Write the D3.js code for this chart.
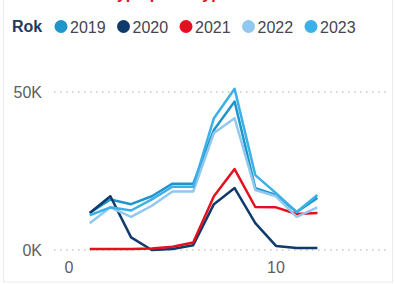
<!DOCTYPE html>
<html>
    <head>
        <script src="https://d3js.org/d3.v7.min.js"></script>
        <style>
            body { margin: 0; background: #fff; }
            text { font-family: "Liberation Sans", Arial, sans-serif; }
        </style>
    </head>
    <body>
        <svg width="395" height="284" id="chart"></svg>
        <script>
            // data (thousands of visitors per month)
            const months = [1,2,3,4,5,6,7,8,9,10,11,12];
            const years = ["2019","2020","2021","2022","2023"];
            const colors = ["#1E96CC","#0F3A6C","#E4101F","#91C8F0","#3CB0E8"];
            const v2019 = [11.7,16.0,14.5,17.0,21.0,21.0,38.0,47.0,19.6,17.4,12.0,16.5];
            const v2020 = [11.7,17.0,4.0,0.0,0.3,1.5,14.5,19.6,8.5,1.3,0.6,0.6];
            const v2021 = [0.3,0.3,0.3,0.5,1.0,2.4,17.0,25.6,13.6,13.5,11.4,11.7];
            const v2022 = [8.5,13.5,10.5,14.0,18.5,18.5,37.0,41.7,19.0,17.0,10.5,13.5];
            const v2023 = [11.0,13.5,12.5,16.0,20.0,20.0,41.7,51.0,23.7,18.0,12.0,17.4];
            const yTicks = [0,50];
            const xTicks = [0,10];

            const seriesValues = [v2019, v2020, v2021, v2022, v2023];

            let svg = d3.select("#chart");

            // frame
            svg.append("rect").attr("x",3.5).attr("y",-2).attr("width",389).attr("height",284)
                .attr("fill","none").attr("stroke","#ececec");

            // title (cut off at top, as in the original)
            svg.append("text").attr("x",12).attr("y",-1)
                .attr("fill","#E4101F").attr("font-weight","bold").attr("font-size",16)
                .text("Návštěvnost typů podle typu roku");

            // legend
            let legend = svg.append("g");
            legend.append("text").attr("x",12).attr("y",32)
                .attr("font-size",16).attr("font-weight","bold").attr("fill","#1F3A60").text("Rok");
            let lx = d3.scalePoint().domain(years).range([61,311]);
            years.forEach((y,i) => {
                legend.append("circle").attr("cx",lx(y)).attr("cy",26.5).attr("r",6.5).attr("fill",colors[i]);
                legend.append("text").attr("x",lx(y)+9).attr("y",33)
                    .attr("font-size",16).attr("fill","#444452").text(y);
            });

            let xScale = d3.scaleLinear().domain([0,10]).range([69,276]);
            let yScale = d3.scaleLinear().domain([0,50]).range([250,92]);

            // grid
            svg.append("g").selectAll("line").data(yTicks).join("line")
                .attr("x1",54).attr("x2",390)
                .attr("y1",d=>yScale(d)).attr("y2",d=>yScale(d))
                .attr("stroke","#c8c8c8").attr("stroke-width",1.5).attr("stroke-dasharray","1.5,4.5");

            svg.append("g").selectAll("text").data(yTicks).join("text")
                .attr("x",42).attr("y",d=>yScale(d)+6).attr("text-anchor","end")
                .attr("font-size",16).attr("fill","#605E5C")
                .text(d=>d+"K");

            svg.append("g").selectAll("text").data(xTicks).join("text")
                .attr("x",d=>xScale(d)).attr("y",273).attr("text-anchor","middle")
                .attr("font-size",16).attr("fill","#605E5C")
                .text(d=>d);

            // lines
            let line = d3.line().x((d,i)=>xScale(months[i])).y(d=>yScale(d));
            svg.append("g").selectAll("path").data(seriesValues).join("path")
                .attr("d",d=>line(d))
                .attr("fill","none")
                .attr("stroke",(d,i)=>colors[i])
                .attr("stroke-width",2.5)
                .attr("stroke-linejoin","round");
        </script>
    </body>
</html>
